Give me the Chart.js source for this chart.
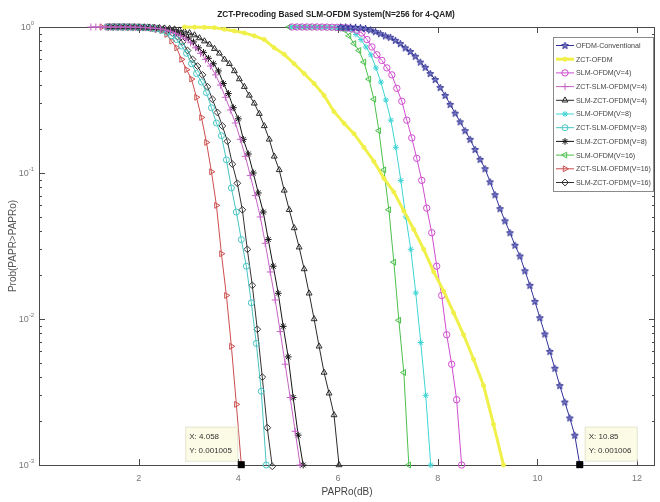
<!DOCTYPE html>
<html>
<head>
<meta charset="utf-8">
<script src="https://cdn.jsdelivr.net/npm/chart.js@4.4.1/dist/chart.umd.min.js"></script>
<style>
  html, body { margin: 0; padding: 0; background: #fff; }
</style>
</head>
<body>
<canvas id="ccdfChart" width="660" height="502"></canvas>
<script>
// PAPR grid step (dB) used by the simulation curves
const step = 0.1;

// CCDF values, Prob(PAPR > PAPRo)
const ofdmConvStart = 6.05;
const ofdmConv = [1, 1, 0.998, 0.995, 0.99, 0.977, 0.955, 0.93, 0.90, 0.87, 0.85, 0.81, 0.77, 0.72, 0.68, 0.63, 0.575, 0.53, 0.48, 0.437,
  0.385, 0.34, 0.295, 0.257, 0.224, 0.195, 0.17, 0.145, 0.124, 0.107, 0.087, 0.071, 0.057, 0.047, 0.039, 0.032, 0.027, 0.0214, 0.017, 0.0132,
  0.0102, 0.0079, 0.006, 0.0046, 0.0035, 0.0027, 0.0021, 0.0016, 0.001006];

const zctOfdmStart = 2.92;
const zctOfdmStep = 0.2;
const zctOfdm = [1, 0.998, 0.995, 0.99, 0.965, 0.94, 0.91, 0.87, 0.82, 0.72, 0.65, 0.56, 0.48, 0.41, 0.34, 0.263, 0.219, 0.186, 0.15, 0.12,
  0.092, 0.074, 0.055, 0.041, 0.030, 0.021, 0.0155, 0.011, 0.0078, 0.0053, 0.0035, 0.0019, 0.001];

const slmOfdm4Start = 5.08;
const slmOfdm4 = [1, 1, 1, 1, 1, 1, 0.999, 0.998, 0.997, 0.995, 0.99, 0.985, 0.97, 0.95, 0.91, 0.82, 0.73, 0.645, 0.59, 0.525,
  0.47, 0.38, 0.31, 0.23, 0.174, 0.126, 0.089, 0.0575, 0.039, 0.023, 0.0145, 0.0078, 0.0049, 0.0028, 0.001];

const zctSlm4Start = 1.04;
const zctSlm4 = [1, 1, 1, 1, 1, 1, 0.999, 0.999, 0.998, 0.997, 0.995, 0.99, 0.985, 0.98, 0.97, 0.955, 0.935, 0.905, 0.87, 0.83,
  0.78, 0.72, 0.66, 0.60, 0.54, 0.47, 0.40, 0.33, 0.27, 0.22, 0.17, 0.13, 0.096, 0.07, 0.05, 0.033, 0.021, 0.0135, 0.0082, 0.0049,
  0.0029, 0.0017, 0.001];

const slmZct4Start = 1.42;
const slmZct4 = [1, 1, 1, 1, 1, 0.999, 0.998, 0.997, 0.995, 0.99, 0.985, 0.98, 0.975, 0.965, 0.95, 0.935, 0.91, 0.88, 0.84, 0.80,
  0.76, 0.71, 0.66, 0.60, 0.56, 0.50, 0.44, 0.39, 0.34, 0.30, 0.255, 0.21, 0.17, 0.13, 0.105, 0.076, 0.056, 0.042, 0.031, 0.022,
  0.015, 0.010, 0.0065, 0.0043, 0.0031, 0.0022, 0.001];

const slmOfdm8Start = 5.06;
const slmOfdm8 = [1, 1, 1, 1, 1, 0.999, 0.998, 0.997, 0.995, 0.99, 0.985, 0.975, 0.96, 0.89, 0.82, 0.73, 0.645, 0.525, 0.42, 0.316,
  0.23, 0.15, 0.089, 0.050, 0.030, 0.0151, 0.0069, 0.0030, 0.001];

const zctSlm8Start = 1.36;
const zctSlm8 = [1, 1, 1, 1, 0.999, 0.998, 0.997, 0.995, 0.99, 0.98, 0.97, 0.95, 0.92, 0.87, 0.82, 0.74, 0.66, 0.56, 0.48, 0.42,
  0.355, 0.28, 0.22, 0.18, 0.123, 0.079, 0.054, 0.035, 0.023, 0.0129, 0.0068, 0.0032, 0.001];

const slmZct8Start = 1.40;
const slmZct8 = [1, 1, 1, 1, 0.999, 0.998, 0.997, 0.995, 0.99, 0.985, 0.98, 0.97, 0.955, 0.94, 0.91, 0.88, 0.84, 0.79, 0.72, 0.67,
  0.61, 0.56, 0.50, 0.41, 0.35, 0.28, 0.235, 0.17, 0.135, 0.10, 0.073, 0.054, 0.035, 0.023, 0.015, 0.0089, 0.0055, 0.0029, 0.0016, 0.001];

const slmOfdm16Start = 5.02;
const slmOfdm16 = [1, 1, 1, 1, 1, 0.999, 0.998, 0.997, 0.995, 0.99, 0.98, 0.96, 0.87, 0.77, 0.69, 0.575, 0.44, 0.32, 0.195, 0.105,
  0.056, 0.0245, 0.0098, 0.0043, 0.001];

const zctSlm16Start = 1.26;
const zctSlm16 = [1, 1, 1, 1, 0.999, 0.998, 0.997, 0.995, 0.99, 0.985, 0.975, 0.96, 0.945, 0.89, 0.80, 0.72, 0.60, 0.51, 0.44, 0.33,
  0.24, 0.162, 0.102, 0.060, 0.028, 0.0145, 0.0065, 0.0026, 0.001005];

const slmZct16Start = 1.38;
const slmZct16 = [1, 1, 1, 1, 0.999, 0.998, 0.997, 0.995, 0.99, 0.985, 0.975, 0.96, 0.94, 0.91, 0.86, 0.79, 0.69, 0.60, 0.54, 0.47,
  0.39, 0.32, 0.26, 0.21, 0.165, 0.115, 0.085, 0.056, 0.03, 0.017, 0.0085, 0.004, 0.0018, 0.00098];

// axis ticks
const xTicks = [2, 4, 6, 8, 10, 12];
const yTicks = [0.001, 0.01, 0.1, 1];
const yTickExp = ['-3', '-2', '-1', '0'];

// data tips shown in the figure
const tipX = [4.058, 10.85];
const tipY = [0.001005, 0.001006];

const FONT = '"Liberation Sans", Arial, sans-serif';

function toPoints(start, vals, st) {
  return vals.map((p, i) => ({ x: +(start + i * st).toFixed(3), y: p }));
}

// small pentagram marker for the conventional OFDM curve
function pentagram(stroke, fill) {
  const c = document.createElement('canvas');
  c.width = 9; c.height = 9;
  const g = c.getContext('2d');
  g.beginPath();
  for (let i = 0; i < 10; i++) {
    const r = i % 2 ? 1.5 : 3.7;
    const a = -Math.PI / 2 + i * Math.PI / 5;
    const px = 4.5 + r * Math.cos(a), py = 4.8 + r * Math.sin(a);
    i ? g.lineTo(px, py) : g.moveTo(px, py);
  }
  g.closePath();
  g.fillStyle = fill; g.fill();
  g.strokeStyle = stroke; g.lineWidth = 0.9; g.stroke();
  return c;
}

const series = [
  { label: 'OFDM-Conventional', data: toPoints(ofdmConvStart, ofdmConv, step), color: '#33339c', style: pentagram('#2a2a90', '#7a7ac6'), r: 3.5 },
  { label: 'ZCT-OFDM', data: toPoints(zctOfdmStart, zctOfdm, zctOfdmStep), color: '#f0f04a', style: 'circle', r: 2, fill: '#f0f04a', width: 3 },
  { label: 'SLM-OFDM(V=4)', data: toPoints(slmOfdm4Start, slmOfdm4, step), color: '#d04cd0', style: 'circle', r: 3.2 },
  { label: 'ZCT-SLM-OFDM(V=4)', data: toPoints(zctSlm4Start, zctSlm4, step), color: '#c464c4', style: 'cross', r: 3.5 },
  { label: 'SLM-ZCT-OFDM(V=4)', data: toPoints(slmZct4Start, slmZct4, step), color: '#2a2a2a', style: 'triangle', r: 3.4 },
  { label: 'SLM-OFDM(V=8)', data: toPoints(slmOfdm8Start, slmOfdm8, step), color: '#3fd4d4', style: 'star', r: 3 },
  { label: 'ZCT-SLM-OFDM(V=8)', data: toPoints(zctSlm8Start, zctSlm8, step), color: '#48c4c4', style: 'circle', r: 3 },
  { label: 'SLM-ZCT-OFDM(V=8)', data: toPoints(slmZct8Start, slmZct8, step), color: '#151515', style: 'star', r: 3.4 },
  { label: 'SLM-OFDM(V=16)', data: toPoints(slmOfdm16Start, slmOfdm16, step), color: '#4cc04c', style: 'triangle', rot: -90, r: 3.4 },
  { label: 'ZCT-SLM-OFDM(V=16)', data: toPoints(zctSlm16Start, zctSlm16, step), color: '#cc4e4e', style: 'triangle', rot: 90, r: 3.4 },
  { label: 'SLM-ZCT-OFDM(V=16)', data: toPoints(slmZct16Start, slmZct16, step), color: '#333333', style: 'rectRot', r: 3.4 }
];

const datasets = series.map(s => ({
  label: s.label,
  data: s.data,
  borderColor: s.color,
  borderWidth: s.width || 1,
  pointStyle: s.style,
  pointRadius: s.r,
  pointRotation: s.rot || 0,
  pointBorderColor: s.color,
  pointBorderWidth: 1,
  pointBackgroundColor: s.fill || 'rgba(0,0,0,0)',
  tension: 0,
  clip: false
}));

function fitFont(ctx, text, weight, width) {
  ctx.font = weight + ' 10px ' + FONT;
  const w = ctx.measureText(text).width;
  return weight + ' ' + (10 * width / w).toFixed(2) + 'px ' + FONT;
}

// axes box, inward ticks, y tick labels and title
const frame = {
  id: 'frame',
  beforeDatasetsDraw(chart) {
    const { ctx, chartArea: a, scales: { x, y } } = chart;
    ctx.save();
    ctx.strokeStyle = '#4a4a4a';
    ctx.lineWidth = 1;
    ctx.strokeRect(a.left + 0.5, a.top + 0.5, a.right - a.left - 1, a.bottom - a.top);
    ctx.beginPath();
    xTicks.forEach(v => {
      const px = Math.round(x.getPixelForValue(v)) + 0.5;
      ctx.moveTo(px, a.bottom); ctx.lineTo(px, a.bottom - 6);
      ctx.moveTo(px, a.top); ctx.lineTo(px, a.top + 6);
    });
    yTicks.forEach((v, k) => {
      const py = Math.round(y.getPixelForValue(v)) + 0.5;
      ctx.moveTo(a.left, py); ctx.lineTo(a.left + 6, py);
      ctx.moveTo(a.right, py); ctx.lineTo(a.right - 6, py);
      if (k < yTicks.length - 1) {
        for (let m = 2; m < 10; m++) {
          const pm = Math.round(y.getPixelForValue(v * m)) + 0.5;
          ctx.moveTo(a.left, pm); ctx.lineTo(a.left + 3, pm);
          ctx.moveTo(a.right, pm); ctx.lineTo(a.right - 3, pm);
        }
      }
    });
    ctx.stroke();

    // y tick labels as 10 with superscript exponent
    ctx.fillStyle = '#777';
    ctx.textBaseline = 'middle';
    yTicks.forEach((v, k) => {
      const py = y.getPixelForValue(v);
      ctx.font = '6px ' + FONT;
      const ew = ctx.measureText(yTickExp[k]).width;
      ctx.textAlign = 'left';
      ctx.fillText(yTickExp[k], 34 - ew, py - 4);
      ctx.font = '9px ' + FONT;
      ctx.textAlign = 'right';
      ctx.fillText('10', 34 - ew, py + 1);
    });

    // title
    const title = 'ZCT-Precoding Based SLM-OFDM System(N=256 for 4-QAM)';
    ctx.font = fitFont(ctx, title, 'bold', 238);
    ctx.fillStyle = '#222';
    ctx.textAlign = 'center';
    ctx.fillText(title, 336, 15);
    ctx.restore();
  }
};

// MATLAB style data tips
const tips = {
  id: 'tips',
  afterDatasetsDraw(chart) {
    const { ctx, scales: { x, y } } = chart;
    ctx.save();
    tipX.forEach((v, i) => {
      const px = x.getPixelForValue(v);
      const py = y.getPixelForValue(tipY[i]);
      const l1 = 'X: ' + v;
      const l2 = 'Y: ' + tipY[i].toFixed(6);
      const bx = i === 0 ? px - 56 : px + 5;
      const by = py - 38;
      ctx.fillStyle = '#fbfbe6';
      ctx.fillRect(bx, by, 52, 34);
      ctx.strokeStyle = '#e4e4d0';
      ctx.strokeRect(bx + 0.5, by + 0.5, 52, 34);
      ctx.fillStyle = '#333';
      ctx.font = '8px ' + FONT;
      ctx.textAlign = 'left';
      ctx.textBaseline = 'middle';
      ctx.fillText(l1, bx + 4, by + 10);
      ctx.fillText(l2, bx + 4, by + 24);
      ctx.fillStyle = '#000';
      ctx.fillRect(px - 3.5, py - 3.5, 7, 7);
    });
    ctx.restore();
  }
};

// legend box in the upper right corner
const legendBox = {
  id: 'legendBox',
  afterDraw(chart) {
    const { ctx } = chart;
    const bx = 553, by = 37, bw = 100, bh = 154;
    ctx.save();
    ctx.fillStyle = '#fff';
    ctx.fillRect(bx, by, bw, bh);
    ctx.strokeStyle = '#8a8a8a';
    ctx.lineWidth = 1;
    ctx.strokeRect(bx + 0.5, by + 0.5, bw, bh);
    const font = fitFont(ctx, 'ZCT-SLM-OFDM(V=16)', '', 75);
    chart.data.datasets.forEach((ds, i) => {
      const ly = by + 8.5 + i * 13.7;
      ctx.strokeStyle = ds.borderColor;
      ctx.lineWidth = ds.borderWidth;
      ctx.beginPath();
      ctx.moveTo(bx + 3, ly); ctx.lineTo(bx + 21, ly);
      ctx.stroke();
      ctx.lineWidth = 1;
      ctx.fillStyle = ds.pointBackgroundColor;
      Chart.helpers.drawPoint(ctx, {
        pointStyle: ds.pointStyle, radius: ds.pointRadius, rotation: ds.pointRotation, borderWidth: 1
      }, bx + 12, ly);
      ctx.fillStyle = '#444';
      ctx.font = font;
      ctx.textAlign = 'left';
      ctx.textBaseline = 'middle';
      ctx.fillText(ds.label, bx + 23, ly + 0.5);
    });
    ctx.restore();
  }
};

const ccdfChart = new Chart(document.getElementById('ccdfChart'), {
  type: 'line',
  data: { datasets },
  options: {
    responsive: false,
    animation: false,
    devicePixelRatio: 1,
    layout: { padding: { top: 27, right: 3, left: 0, bottom: 0 } },
    plugins: { legend: { display: false }, tooltip: { enabled: false } },
    scales: {
      x: {
        type: 'linear', min: 0, max: 12.36,
        grid: { display: false, drawTicks: false }, border: { display: false },
        afterBuildTicks: s => { s.ticks = xTicks.map(v => ({ value: v })); },
        afterFit: s => { s.height = 37; },
        ticks: { color: '#777', font: { size: 9, family: FONT }, padding: 8, maxRotation: 0, autoSkip: false },
        title: { display: true, text: 'PAPRo(dB)', color: '#444', font: { size: 10, family: FONT }, padding: { top: 0, bottom: 4 } }
      },
      y: {
        type: 'logarithmic', min: 0.001, max: 1,
        grid: { display: false, drawTicks: false }, border: { display: false },
        afterBuildTicks: s => { s.ticks = yTicks.map(v => ({ value: v })); },
        afterFit: s => { s.width = 39; },
        ticks: { display: false },
        title: { display: true, text: 'Prob(PAPR>PAPRo)', color: '#555', font: { size: 10, family: FONT }, padding: { top: 7, bottom: 0 } }
      }
    }
  },
  plugins: [frame, tips, legendBox]
});
</script>
</body>
</html>
